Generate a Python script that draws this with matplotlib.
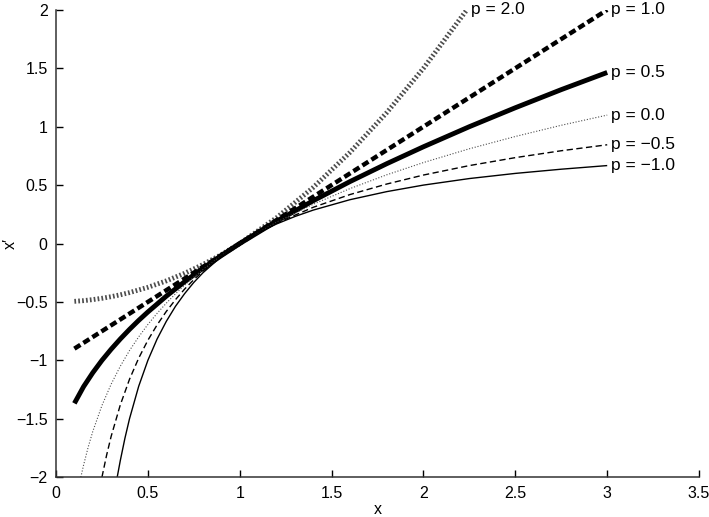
import matplotlib.pyplot as plt

plt.rcParams['font.family'] = ['Liberation Sans', 'DejaVu Sans']

# curves, one (x, y) pair of lists per power p
x_p20 = [0.1, 0.15, 0.2, 0.25, 0.3, 0.35, 0.4, 0.5, 0.6, 0.7, 0.8, 0.9, 1.0,
         1.2, 1.4, 1.6, 1.8, 2.0, 2.236]
y_p20 = [-0.495, -0.489, -0.48, -0.469, -0.455, -0.439, -0.42, -0.375, -0.32,
         -0.255, -0.18, -0.095, 0.0, 0.22, 0.48, 0.78, 1.12, 1.5, 2.0]

x_p10 = [0.1, 1.0, 3.0]
y_p10 = [-0.9, 0.0, 2.0]

x_p05 = [0.1, 0.15, 0.2, 0.25, 0.3, 0.35, 0.4, 0.45, 0.5, 0.6, 0.7, 0.8, 0.9,
         1.0, 1.2, 1.4, 1.6, 1.8, 2.0, 2.25, 2.5, 2.75, 3.0]
y_p05 = [-1.368, -1.225, -1.106, -1.0, -0.905, -0.817, -0.735, -0.658, -0.586,
         -0.451, -0.327, -0.211, -0.103, 0.0, 0.191, 0.366, 0.530, 0.683,
         0.828, 1.0, 1.162, 1.317, 1.464]

x_p00 = [0.135, 0.15, 0.175, 0.2, 0.25, 0.3, 0.35, 0.4, 0.45, 0.5, 0.55, 0.6,
         0.65, 0.7, 0.75, 0.8, 0.9, 1.0, 1.2, 1.4, 1.6, 1.8, 2.0, 2.25, 2.5,
         2.75, 3.0]
y_p00 = [-2.0, -1.897, -1.743, -1.609, -1.386, -1.204, -1.050, -0.916, -0.799,
         -0.693, -0.598, -0.511, -0.431, -0.357, -0.288, -0.223, -0.105, 0.0,
         0.182, 0.336, 0.470, 0.588, 0.693, 0.811, 0.916, 1.012, 1.099]

x_pm05 = [0.25, 0.275, 0.3, 0.35, 0.4, 0.45, 0.5, 0.55, 0.6, 0.65, 0.7, 0.75,
          0.8, 0.9, 1.0, 1.2, 1.4, 1.6, 1.8, 2.0, 2.25, 2.5, 2.75, 3.0]
y_pm05 = [-2.0, -1.814, -1.651, -1.381, -1.162, -0.981, -0.828, -0.697, -0.582,
          -0.481, -0.390, -0.309, -0.236, -0.108, 0.0, 0.174, 0.310, 0.419,
          0.509, 0.586, 0.667, 0.735, 0.794, 0.845]

x_pm10 = [0.333, 0.35, 0.375, 0.4, 0.45, 0.5, 0.55, 0.6, 0.65, 0.7, 0.75, 0.8,
          0.9, 1.0, 1.1, 1.2, 1.3, 1.4, 1.6, 1.8, 2.0, 2.25, 2.5, 2.75, 3.0]
y_pm10 = [-2.0, -1.857, -1.667, -1.5, -1.222, -1.0, -0.818, -0.667, -0.538,
          -0.429, -0.333, -0.25, -0.111, 0.0, 0.091, 0.167, 0.231, 0.286,
          0.375, 0.444, 0.5, 0.556, 0.6, 0.636, 0.667]

labels = ['p = 2.0', 'p = 1.0', 'p = 0.5', 'p = 0.0', 'p = \u22120.5', 'p = \u22121.0']
xticks = [0, 0.5, 1, 1.5, 2, 2.5, 3, 3.5]
yticks = [-2, -1.5, -1, -0.5, 0, 0.5, 1, 1.5, 2]

curves = [(x_p20, y_p20), (x_p10, y_p10), (x_p05, y_p05),
          (x_p00, y_p00), (x_pm05, y_pm05), (x_pm10, y_pm10)]
styles = [
    dict(color='0.3', lw=3.5, linestyle=(0, (0.35, 0.45))),
    dict(color='black', lw=3.2, linestyle=(0, (1.6, 0.8))),
    dict(color='black', lw=3.5, linestyle='-'),
    dict(color='0.3', lw=0.8, linestyle=(0, (1, 1.6))),
    dict(color='black', lw=1.0, linestyle=(0, (4.5, 2.5))),
    dict(color='black', lw=1.0, linestyle='-'),
]

fig = plt.figure(figsize=(7.09, 5.17), dpi=100)
ax = fig.add_axes([0.079, 0.077, 0.907, 0.904])

for (xs, ys), st, lab in zip(curves, styles, labels):
    ax.plot(xs, ys, solid_capstyle='butt', **st)
    ax.annotate(lab, (xs[-1], ys[-1]), xytext=(3, 0), textcoords='offset points',
                va='center', ha='left', fontsize=12.5, annotation_clip=False)

ax.set_xlim(0, 3.5)
ax.set_ylim(-2, 2)
ax.set_xticks(xticks)
ax.set_xticklabels(['0', '0.5', '1', '1.5', '2', '2.5', '3', '3.5'])
ax.set_yticks(yticks)
ax.set_yticklabels(['\u22122', '\u22121.5', '\u22121', '\u22120.5', '0', '0.5', '1', '1.5', '2'])
ax.tick_params(direction='in', length=5, width=1, labelsize=11.5, pad=6)
ax.spines['top'].set_visible(False)
ax.spines['right'].set_visible(False)
for s in ['left', 'bottom']:
    ax.spines[s].set_linewidth(1.1)
    ax.spines[s].set_color('0.2')
ax.set_xlabel('x', fontsize=11.5, labelpad=1)
ax.set_ylabel("x\u2032", fontsize=11.5)
ax.yaxis.set_label_coords(-0.06, 0.5)

fig.savefig('out.png', dpi=100)
